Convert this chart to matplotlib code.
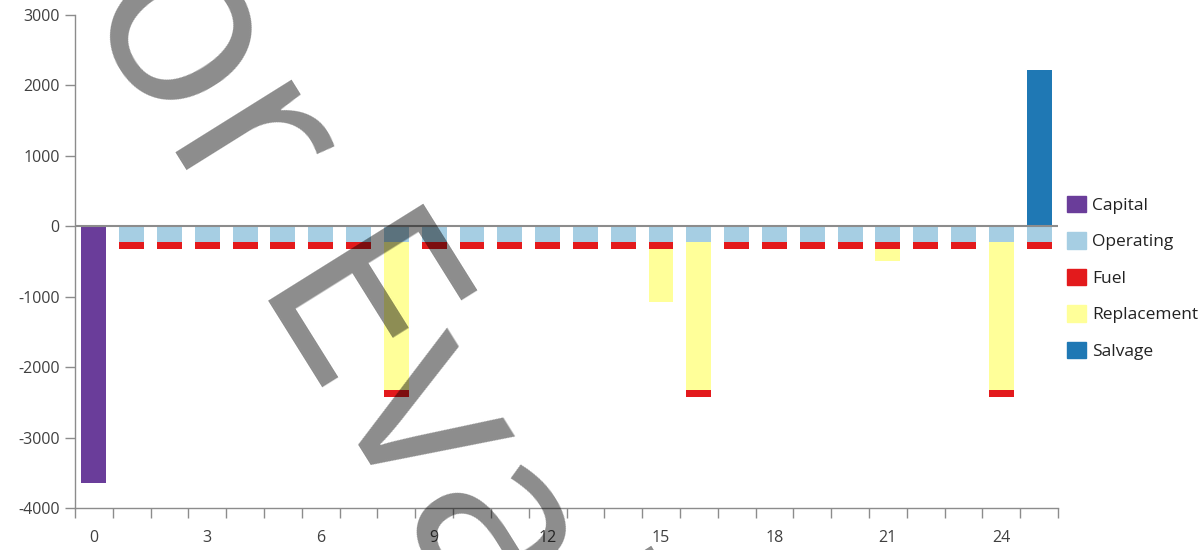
import numpy as np
import matplotlib.pyplot as plt
from matplotlib.patches import Patch

# data
years = list(range(26))
capital = [-3640] + [0] * 25
operating = [0] + [-220] * 25
fuel = [0] + [-100] * 25
replacement = [0] * 26
replacement[8] = -2110
replacement[15] = -750
replacement[16] = -2110
replacement[21] = -175
replacement[24] = -2110
salvage = [0] * 25 + [2215]
# years where the fuel block sits under the replacement block
fuel_under = [8, 16, 24]

colors = {"Capital": "#6a3d9a", "Operating": "#a6cee3", "Fuel": "#e31a1c",
          "Replacement": "#ffff99", "Salvage": "#1f78b4"}

plt.rcParams["font.family"] = ["Open Sans", "DejaVu Sans"]
plt.rcParams["axes.unicode_minus"] = False

fig = plt.figure(figsize=(12.04, 5.5), dpi=100)
ax = fig.add_axes([75 / 1204, 1 - 508 / 550, (1058 - 75) / 1204, (508 - 15) / 550])

x = np.array(years)
w = 0.66
ax.bar(x, capital, w, color=colors["Capital"], zorder=2)
ax.bar(x, operating, w, color=colors["Operating"], zorder=2)
ax.bar(x, salvage, w, color=colors["Salvage"], zorder=2)

op = np.array(operating)
fu = np.array(fuel)
rep = np.array(replacement)
under = np.isin(x, fuel_under)
fuel_bottom = np.where(under, op + rep, op)
rep_bottom = np.where(under, op, op + fu)
ax.bar(x, fu, w, bottom=fuel_bottom, color=colors["Fuel"], zorder=2)
ax.bar(x, rep, w, bottom=rep_bottom, color=colors["Replacement"], zorder=2)

ax.axhline(0, color="#8c8c8c", lw=1.5, zorder=3)

ax.set_xlim(-0.5, 25.5)
ax.set_ylim(-4000, 3000)
ax.set_yticks(range(-4000, 3001, 1000))
ax.set_xticks(range(0, 25, 3))
ax.set_xticks(np.arange(-0.5, 25.6, 1), minor=True)
ax.tick_params(axis="x", which="major", length=0, pad=16, labelsize=11.5, labelcolor="#404040")
ax.tick_params(axis="x", which="minor", length=7, color="#8c8c8c", width=1)
ax.tick_params(axis="y", length=7, color="#8c8c8c", width=1, labelsize=11.5, labelcolor="#404040", pad=4)

for s in ["top", "right"]:
    ax.spines[s].set_visible(False)
for s in ["left", "bottom"]:
    ax.spines[s].set_color("#8c8c8c")
    ax.spines[s].set_linewidth(1)

handles = [Patch(color=c, label=n) for n, c in colors.items()]
fig.legend(handles=handles, loc="upper left", bbox_to_anchor=(1058 / 1204, 1 - 187 / 550),
           frameon=False, fontsize=12.5, borderpad=0, handlelength=1.1, handleheight=1.1,
           handletextpad=0.35, labelspacing=1.05, labelcolor="#222222")

# watermark
fig.text(68 / 1204, 1 - (-146) / 550, "For Evaluation Only", fontsize=185, color="black",
         alpha=0.45, rotation=-58, rotation_mode="anchor", ha="left", va="center", zorder=10)

fig.savefig("out.png", dpi=100)
